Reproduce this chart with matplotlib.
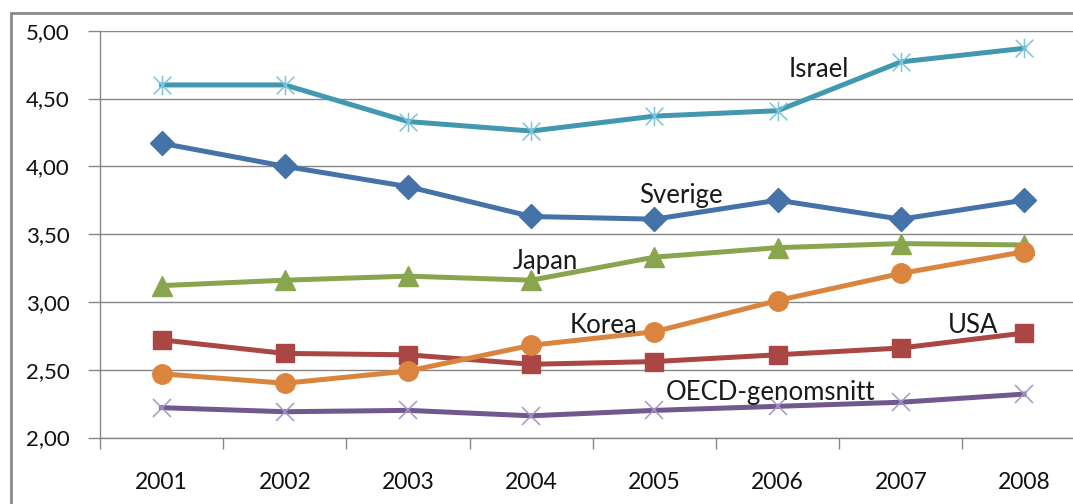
import matplotlib.pyplot as plt
import numpy as np
from matplotlib.path import Path
from matplotlib.patches import Rectangle
from matplotlib.ticker import FuncFormatter, MultipleLocator

plt.rcParams['font.family'] = ['Lato', 'DejaVu Sans']

years = ['2001', '2002', '2003', '2004', '2005', '2006', '2007', '2008']

sverige = [4.17, 4.00, 3.85, 3.63, 3.61, 3.75, 3.61, 3.75]
usa = [2.72, 2.62, 2.61, 2.54, 2.56, 2.61, 2.66, 2.77]
japan = [3.12, 3.16, 3.19, 3.16, 3.33, 3.40, 3.43, 3.42]
oecd = [2.22, 2.19, 2.20, 2.16, 2.20, 2.23, 2.26, 2.32]
israel = [4.60, 4.60, 4.33, 4.26, 4.37, 4.41, 4.77, 4.87]
korea = [2.47, 2.40, 2.49, 2.68, 2.78, 3.01, 3.21, 3.37]

# asterisk marker: one upright stroke plus two diagonals
star = Path([(0, -1.1), (0, 1.1), (-1, -1), (1, 1), (-1, 1), (1, -1)],
            [Path.MOVETO, Path.LINETO, Path.MOVETO, Path.LINETO,
             Path.MOVETO, Path.LINETO])

W, H = 1073, 504
fig = plt.figure(figsize=(W / 100, H / 100), dpi=100)

# plot area runs past the right edge of the figure
left, top, bottom = 100, 30.7, 437.5
width = 8 * 123.2
ax = fig.add_axes([left / W, (H - bottom) / H, width / W, (bottom - top) / H])

x = np.arange(len(years))
lw = 3.6

ax.plot(x, sverige, color='#4572A7', lw=lw, marker='D', ms=12, zorder=3)
ax.plot(x, usa, color='#AA4643', lw=lw, marker='s', ms=13.5, zorder=3)
ax.plot(x, japan, color='#89A54E', lw=lw, marker='^', ms=14, zorder=3)
ax.plot(x, oecd, color='#71588F', lw=lw, marker='x', ms=13,
        mec='#A496C8', mew=1.1, zorder=3)
ax.plot(x, israel, color='#4198AF', lw=lw, marker=star, ms=14,
        mec='#7EC4D8', mew=1.1, zorder=3)
ax.plot(x, korea, color='#DB843D', lw=lw, marker='o', ms=14, zorder=3)

ax.set_xlim(-0.5, len(years) - 0.5)
ax.set_ylim(2.0, 5.0)

grid_col = '#868686'
ax.yaxis.set_major_locator(MultipleLocator(0.5))
ax.yaxis.set_major_formatter(FuncFormatter(lambda v, p: f"{v:.2f}".replace('.', ',')))
ax.grid(axis='y', color=grid_col, lw=1.0, zorder=1)

ax.set_xticks(x)
ax.set_xticklabels(years)
ax.set_xticks(np.arange(-0.5, len(years)), minor=True)
ax.tick_params(axis='x', which='major', length=0, pad=25, labelsize=16.5,
               labelcolor='#111111')
ax.tick_params(axis='x', which='minor', length=8, width=1.0, color=grid_col)
ax.tick_params(axis='y', length=9, width=1.0, color=grid_col, pad=13,
               labelsize=16, labelcolor='#111111')

for side in ['top', 'right']:
    ax.spines[side].set_visible(False)
for side in ['left', 'bottom']:
    ax.spines[side].set_color(grid_col)
    ax.spines[side].set_linewidth(1.0)

# series names written next to the lines
names = ['Israel', 'Sverige', 'Japan', 'Korea', 'USA', 'OECD-genomsnitt']
name_xy = [(5.09, 4.66), (3.875, 3.73), (2.85, 3.24), (3.315, 2.77),
           (6.38, 2.77), (4.09, 2.28)]
for name, (tx, ty) in zip(names, name_xy):
    ax.text(tx, ty, name, fontsize=18.5, ha='left', va='baseline',
            color='#1a1a1a', zorder=4)

# chart frame, partly outside the figure
fig.add_artist(Rectangle((11 / W, -0.2), 1.2, (H - 13) / H + 0.2,
                         transform=fig.transFigure, fill=False,
                         ec='#8a8a8a', lw=2.0))

fig.savefig('out.png', dpi=100, facecolor='white')
